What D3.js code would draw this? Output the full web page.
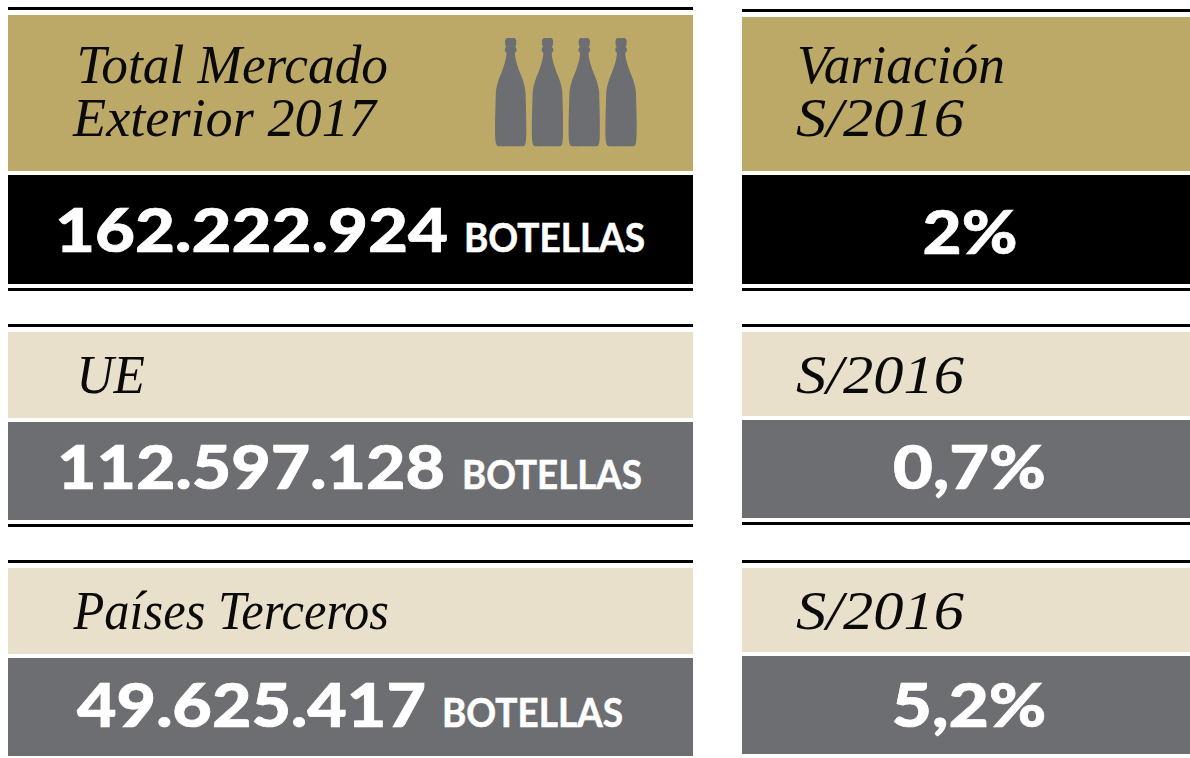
<!DOCTYPE html>
<html lang="es">
<head>
<meta charset="utf-8">
<title>Total Mercado Exterior 2017</title>
<script src="https://cdn.jsdelivr.net/npm/d3@7"></script>
<style>
  html, body { margin: 0; padding: 0; background: #fff; }
  svg { display: block; }
  .head { font-family: "Liberation Serif", serif; font-style: italic; fill: #0a0a0a; }
  .num { font-family: Lato, sans-serif; font-weight: 900; fill: #fff; stroke: #fff; stroke-width: 0.7px; }
  .unit { font-family: Lato, sans-serif; font-weight: 700; fill: #fff; stroke: #fff; stroke-width: 0.6px; }
</style>
</head>
<body>
<svg id="chart" width="1190" height="758"></svg>
<script>
(function(){
    'use strict';

    /*******************************************************************
     *                              DATA                               *
     *******************************************************************/

    var headings = [['Total Mercado', 'Exterior 2017'], ['UE'], ['Países Terceros']];
    var compareHeadings = [['Variación', 'S/2016'], ['S/2016'], ['S/2016']];
    var bottles = [162222924, 112597128, 49625417];
    var variation = [2, 0.7, 5.2];
    var unit = 'BOTELLAS';
    var bottleCount = [0, 1, 2, 3];

    /*******************************************************************
     *                             LAYOUT                              *
     *******************************************************************/

    var GOLD = '#bca968', BEIGE = '#e8e0cb', GREY = '#6d6e72', BLACK = '#000';

    // top line, head top, head bottom, value top, value bottom, bottom line
    var leftRows  = [[7, 15, 171, 175, 284, 288], [324, 332, 418, 422, 520, 524], [560, 568, 654, 658, 756, null]];
    var rightRows = [[9, 17, 171, 175, 284, 288], [324, 332, 416, 420, 518, 522], [560, 568, 652, 656, 754, null]];

    var leftX = 8, leftW = 685, rightX = 742, rightW = 448;

    // [x, baseline, width] for each heading line
    var headPos = [
        [[76.5, 83, 311.5], [73, 136, 303]],
        [[76.5, 393, 68.5]],
        [[73.5, 629, 315.5]]
    ];
    var comparePos = [
        [[797, 83, 208], [796, 136, 168]],
        [[796, 393, 168]],
        [[796, 629, 168]]
    ];
    // [number x, number width, unit x, unit width, baseline]
    var numPos = [
        [55, 393, 464, 181, 252],
        [57, 388, 462, 180, 489],
        [77, 349, 442, 181, 727]
    ];
    // [x, width, baseline]
    var pctPos = [
        [922.5, 95, 254],
        [893, 153, 489],
        [891.5, 155, 727]
    ];

    var svg = d3.select('#chart');
    var locale = d3.formatLocale({decimal: ',', thousands: '.', grouping: [3], currency: ['', '€']});
    var formatBottles = locale.format(',d');
    var formatPct = locale.format('.1~f');

    /*******************************************************************
     *                             DRAWING                             *
     *******************************************************************/

    function drawPanel(rows, x, w, firstHeadColor) {
        rows.forEach(function(r, i) {
            svg.append('rect').attr('x', x).attr('y', r[0]).attr('width', w).attr('height', 3).attr('fill', BLACK);
            svg.append('rect').attr('x', x).attr('y', r[1]).attr('width', w).attr('height', r[2] - r[1])
                .attr('fill', i === 0 ? firstHeadColor : BEIGE);
            svg.append('rect').attr('x', x).attr('y', r[3]).attr('width', w).attr('height', r[4] - r[3])
                .attr('fill', i === 0 ? BLACK : GREY);
            if (r[5] !== null) {
                svg.append('rect').attr('x', x).attr('y', r[5]).attr('width', w).attr('height', 3).attr('fill', BLACK);
            }
        });
    }

    function fitText(x, y, width, size, cls, str) {
        svg.append('text')
            .attr('class', cls)
            .attr('x', x)
            .attr('y', y)
            .attr('font-size', size)
            .attr('textLength', width)
            .attr('lengthAdjust', 'spacingAndGlyphs')
            .text(str);
    }

    function drawHeadings(lines, pos) {
        lines.forEach(function(group, i) {
            group.forEach(function(str, j) {
                fitText(pos[i][j][0], pos[i][j][1], pos[i][j][2], 54, 'head', str);
            });
        });
    }

    /**
     * Right half of the bottle outline, [half width, height from top],
     * read off the icon and mirrored to close the shape
     */
    var bottleProfile = [
        [0, 0], [4, 0], [5.3, 1.5], [5.3, 7], [4.4, 8.5], [5.6, 10], [5.6, 13], [4.4, 14.5],
        [4.8, 20], [7.6, 30], [12.5, 43], [14.6, 52], [15, 60], [15, 104], [13.5, 107.5], [11.5, 108], [0, 108]
    ];

    function drawBottles() {
        var bx = d3.scaleBand().domain(bottleCount).range([495.7, 495.7 + 4 * 36.8]).paddingInner(0).paddingOuter(0);
        var outline = bottleProfile.concat(bottleProfile.slice().reverse().map(function(p) { return [-p[0], p[1]]; }));
        var line = d3.line()
            .x(function(p) { return p[0]; })
            .y(function(p) { return p[1]; })
            .curve(d3.curveCatmullRomClosed.alpha(0.5));

        svg.selectAll('path.bottle')
            .data(bottleCount)
            .enter()
            .append('path')
            .attr('class', 'bottle')
            .attr('fill', GREY)
            .attr('transform', function(d) { return 'translate(' + (bx(d) + 15) + ',38.3)'; })
            .attr('d', line(outline));
    }

    drawPanel(leftRows, leftX, leftW, GOLD);
    drawPanel(rightRows, rightX, rightW, GOLD);
    drawHeadings(headings, headPos);
    drawHeadings(compareHeadings, comparePos);
    drawBottles();

    bottles.forEach(function(v, i) {
        var p = numPos[i];
        fitText(p[0], p[4], p[1], 61, 'num', formatBottles(v));
        fitText(p[2], p[4], p[3], 41, 'unit', unit);
    });

    variation.forEach(function(v, i) {
        var p = pctPos[i];
        fitText(p[0], p[2], p[1], 61, 'num', formatPct(v) + '%');
    });
})();
</script>
</body>
</html>
